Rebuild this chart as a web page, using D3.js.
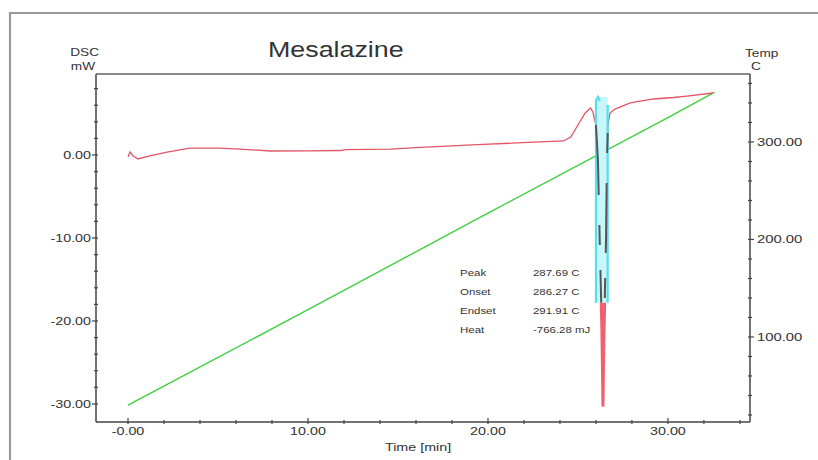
<!DOCTYPE html>
<html><head><meta charset="utf-8">
<script src="https://cdn.jsdelivr.net/npm/d3@7"></script>
<style>body{margin:0;background:#fff}svg{display:block}text{font-family:"Liberation Sans",Arial,sans-serif;fill:#333}</style>
</head><body><svg id="c" width="818" height="460"></svg>
<script>
// ---- data ----
const dscTime = [0,0.11,0.28,0.56,1.2,2.17,3.44,5.1,6.2,7.9,10.0,11.8,12.1,14.6,16.0,17.7,19.4,21.6,22.9,24.2,24.6,24.9,25.4,25.7,25.83,26.0,26.11,26.22,26.33,26.39,26.44,26.56,26.61,26.67,26.78,27.06,27.9,29.2,30.3,31.06,32.5];
const dscValue = [-0.24,0.36,-0.12,-0.48,-0.1,0.36,0.84,0.84,0.72,0.48,0.5,0.54,0.66,0.72,0.89,1.08,1.25,1.45,1.57,1.69,2.17,3.25,5.06,5.66,5.18,3.61,-0.6,-11.4,-21.0,-30.3,-22.3,-10.2,-0.6,3.61,5.06,5.54,6.27,6.75,6.93,7.1,7.47];
const tempTime = [0,10,20,30,32.6];
const tempValue = [30,128,227,325,351];
const xTicks = [0,10,20,30];
const xTickLabels = ["-0.00","10.00","20.00","30.00"];
const yTicks = [0,-10,-20,-30];
const yTickLabels = ["0.00","-10.00","-20.00","-30.00"];
const tTicks = [100,200,300];
const tTickLabels = ["100.00","200.00","300.00"];
const peakLabels = ["Peak","Onset","Endset","Heat"];
const peakValues = ["287.69 C","286.27 C","291.91 C","-766.28 mJ"];
const peakRange = [26.0,26.65];      // integration window (min)
const peakBand = [7.0,-17.8];        // highlighted band (mW)

// ---- layout ----
const L=96,R=750,T=74,B=422;
const svg=d3.select("#c");
const x=d3.scaleLinear().domain([-1.78,34.56]).range([L,R]);
const y=d3.scaleLinear().domain([9.76,-32.17]).range([T,B]);
const yT=d3.scaleLinear().domain([369.7,12.8]).range([T,B]);

function txt(s,px,py,size,anchor,sx){
  const g=svg.append("g").attr("transform",`translate(${px},${py}) scale(${sx||1.35},1)`);
  g.append("text").attr("text-anchor",anchor||"start").attr("font-size",size).text(s);
  return g;
}

// outer frame
svg.append("path").attr("d","M10,470V13H830").attr("fill","none").attr("stroke","#9a9a9a").attr("stroke-width",2.2);
// plot top border
svg.append("line").attr("x1",L).attr("x2",R).attr("y1",T).attr("y2",T).attr("stroke","#8a8a8a").attr("stroke-width",2);

// axes lines
const ax="#444";
svg.append("line").attr("x1",L).attr("x2",L).attr("y1",T).attr("y2",B).attr("stroke",ax).attr("stroke-width",1.5);
svg.append("line").attr("x1",R).attr("x2",R).attr("y1",T).attr("y2",B).attr("stroke",ax).attr("stroke-width",1.5);
svg.append("line").attr("x1",L).attr("x2",R).attr("y1",B).attr("y2",B).attr("stroke",ax).attr("stroke-width",1.5);

// ticks
const tk=svg.append("g").attr("stroke",ax).attr("stroke-width",1.2);
d3.range(-30,9.9,2).forEach(v=>{const M=v%10===0;tk.append("line").attr("x1",L-(M?4:2)).attr("x2",L+2).attr("y1",y(v)).attr("y2",y(v));});
d3.range(20,369,20).forEach(v=>{const M=v%100===0;tk.append("line").attr("x1",R-2).attr("x2",R+(M?4:2)).attr("y1",yT(v)).attr("y2",yT(v));});
d3.range(0,34.5,2).forEach(v=>{const M=v%10===0;tk.append("line").attr("x1",x(v)).attr("x2",x(v)).attr("y1",B-(M?4:2)).attr("y2",B+2);});

xTicks.forEach((v,i)=>txt(xTickLabels[i],x(v),435,11,"middle",1.3));
yTicks.forEach((v,i)=>txt(yTickLabels[i],91,y(v)+4,11,"end",1.3));
tTicks.forEach((v,i)=>txt(tTickLabels[i],757,yT(v)+4,11,"start",1.35));

// titles
txt("Mesalazine",268,57,22,"start",1.22);
txt("DSC",99,56,10.5,"end",1.3);
txt("mW",95,70,10.5,"end",1.3);
txt("Temp",745,57,10.5,"start",1.3);
txt("C",751,70,10.5,"start",1.3);
txt("Time  [min]",385,451,11,"start",1.3);

// temperature line
const tempData=tempTime.map((t,i)=>[t,tempValue[i]]);
svg.append("path").datum(tempData).attr("fill","none").attr("stroke","#3fcf3f").attr("stroke-width",1.4)
  .attr("d",d3.line().x(d=>x(d[0])).y(d=>yT(d[1])));

// dsc curve
const dscData=dscTime.map((t,i)=>[t,dscValue[i]]);
const line=d3.line().x(d=>x(d[0])).y(d=>y(d[1]));
svg.append("path").datum(dscData).attr("fill","none").attr("stroke","#e25566").attr("stroke-width",1.3).attr("d",line);

// thick red peak tail
const peakData=dscData.filter(d=>d[0]>=peakRange[0]-0.05&&d[0]<=peakRange[1]+0.05);
svg.append("defs").append("clipPath").attr("id","lowclip").append("rect")
  .attr("x",L).attr("y",y(peakBand[1])).attr("width",R-L).attr("height",B-y(peakBand[1]));
svg.append("path").datum(peakData).attr("clip-path","url(#lowclip)").attr("fill","#f2707e").attr("stroke","#f0606f").attr("stroke-width",3)
  .attr("d",line);

// cyan band
const bx0=x(peakRange[0]),bx1=x(peakRange[1]),by0=y(peakBand[0]),by1=y(peakBand[1]);
svg.append("rect").attr("x",bx0).attr("y",by0).attr("width",bx1-bx0).attr("height",by1-by0).attr("fill","#c8f6fa");
svg.append("path").attr("d",`M${bx0},${by1}V${by0+4}L${bx0+2},${by0}L${bx0+4},${by0+4}`).attr("fill","none").attr("stroke","#55e0ec").attr("stroke-width",2.2);
svg.append("line").attr("x1",bx1).attr("x2",bx1).attr("y1",by0+8).attr("y2",by1).attr("stroke","#55e0ec").attr("stroke-width",2.2);

// dark dashed peak curve inside band
svg.append("defs").append("clipPath").attr("id","hiclip").append("rect")
  .attr("x",L).attr("y",T).attr("width",R-L).attr("height",by1-T);
svg.append("path").datum(peakData).attr("clip-path","url(#hiclip)").attr("fill","none").attr("stroke","#555").attr("stroke-width",2)
  .attr("stroke-dasharray","70,30,20,25").attr("d",line);

// peak annotation
peakLabels.forEach((s,i)=>{
  txt(s,460,276+i*19,8.5,"start",1.35);
  txt(peakValues[i],533,276+i*19,8.5,"start",1.35);
});
</script></body></html>
